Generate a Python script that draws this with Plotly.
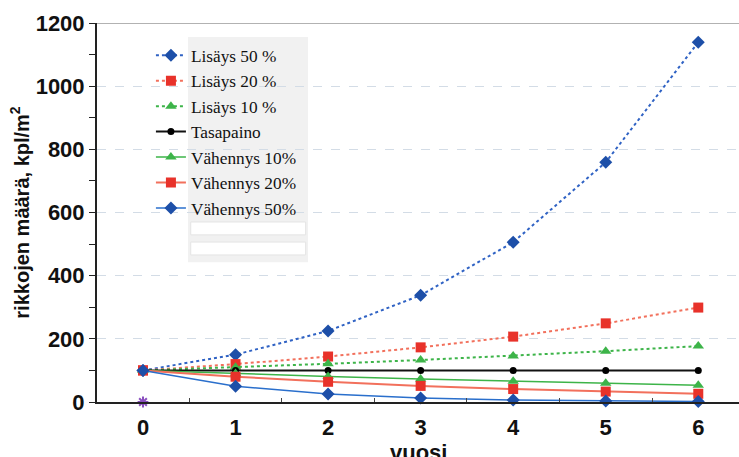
import plotly.graph_objects as go

years = [0, 1, 2, 3, 4, 5, 6]
lisays50 = [100, 150, 225, 338, 506, 759, 1139]
lisays20 = [100, 120, 144, 173, 207, 249, 299]
lisays10 = [100, 110, 121, 133, 146, 161, 177]
tasapaino = [100, 100, 100, 100, 100, 100, 100]
vahennys10 = [100, 90, 81, 73, 66, 59, 53]
vahennys20 = [100, 80, 64, 51, 41, 33, 26]
vahennys50 = [100, 50, 25, 12.5, 6, 3, 1.6]
extra_x = [0]
extra_y = [0]
y_ticks = [0, 200, 400, 600, 800, 1000, 1200]

fig = go.Figure()

series = [
    ("Lisäys 50 %", lisays50, "#2F62C4", "#1D4FA8", "diamond", 10, "dot", 2),
    ("Lisäys 20 %", lisays20, "#F2705C", "#E8322A", "square", 10, "dot", 2),
    ("Lisäys 10 %", lisays10, "#3DB449", "#3DB449", "triangle-up", 10, "dot", 2),
    ("Tasapaino", tasapaino, "#111111", "#000000", "circle", 7, "solid", 2),
    ("Vähennys 10%", vahennys10, "#3DB449", "#3DB449", "triangle-up", 10, "solid", 1.5),
    ("Vähennys 20%", vahennys20, "#F2705C", "#E8322A", "square", 10, "solid", 2),
    ("Vähennys 50%", vahennys50, "#2A6FCC", "#1D4FA8", "diamond", 10, "solid", 1.5),
]
for name, ys, lc, mc, sym, ms, dash, lw in series:
    fig.add_trace(go.Scatter(
        x=years, y=ys, name=name, mode="lines+markers",
        line=dict(color=lc, width=lw, dash=dash),
        marker=dict(symbol=sym, size=ms, color=mc),
        cliponaxis=False,
    ))

fig.add_trace(go.Scatter(
    x=extra_x, y=extra_y, mode="markers", showlegend=False,
    marker=dict(symbol="asterisk", size=9, line=dict(color="#8A4FBF", width=2)),
    cliponaxis=False,
))

# legend background box and blank entries
fig.add_shape(type="rect", xref="paper", yref="paper", x0=0.1417, x1=0.3287, y0=0.369, y1=0.963,
              fillcolor="#F1F1F1", line=dict(width=0), layer="below")
for y0, y1 in [(0.441, 0.475), (0.388, 0.422)]:
    fig.add_shape(type="rect", xref="paper", yref="paper", x0=0.146, x1=0.325, y0=y0, y1=y1,
                  fillcolor="#FFFFFF", line=dict(color="#E4E4E4", width=1), layer="below")
# top border
fig.add_shape(type="line", xref="paper", yref="y", x0=0, x1=1, y0=1200, y1=1200,
              line=dict(color="#999999", width=1.5))

# x-axis title (placed as annotation, partially cut at the bottom like the reference)
fig.add_annotation(text="<b>vuosi</b>", xref="paper", yref="paper", x=0.5, y=-0.095,
                   xanchor="center", yanchor="top", showarrow=False,
                   font=dict(family="Liberation Sans", size=22, color="#111111"))

fig.update_layout(
    width=739, height=457,
    margin=dict(l=97, r=0, t=23, b=55, autoexpand=False),
    paper_bgcolor="white", plot_bgcolor="white",
    showlegend=True,
    legend=dict(x=0.084, y=0.962, xanchor="left", yanchor="top",
                bgcolor="rgba(0,0,0,0)",
                font=dict(family="Liberation Serif", size=17.3, color="#111111"),
                tracegroupgap=0),
    xaxis=dict(range=[-0.497, 6.44], tickvals=years,
               ticktext=["<b>%d</b>" % v for v in years],
               automargin=False, ticklabelstandoff=5,
               showgrid=False, zeroline=False, showline=True, linecolor="#222222", linewidth=2,
               ticks="", tickfont=dict(family="Liberation Sans", size=22, color="#111111"),
               minor=dict(tickvals=[0.5, 1.5, 2.5, 3.5, 4.5, 5.5], ticks="inside", ticklen=4,
                          tickcolor="#444444")),
    yaxis=dict(range=[0, 1200], tickvals=y_ticks,
               ticktext=["<b>%d</b>" % v for v in y_ticks],
               automargin=False,
               showgrid=True, gridcolor="#D3DCE6", griddash="dash", gridwidth=1,
               zeroline=False, showline=True, linecolor="#222222", linewidth=2,
               ticks="outside", ticklen=6, tickcolor="#222222",
               tickfont=dict(family="Liberation Sans", size=22, color="#111111"),
               minor=dict(dtick=100, ticks="outside", ticklen=6, tickcolor="#222222", showgrid=False),
               title=dict(text="<b>rikkojen määrä, kpl/m<sup>2</sup></b>",
                          font=dict(family="Liberation Sans", size=20, color="#111111"), standoff=1)),
)

fig.write_html("out.html", config={"displayModeBar": False},
               post_script="document.body.style.margin='0px';document.body.style.overflow='hidden';")
